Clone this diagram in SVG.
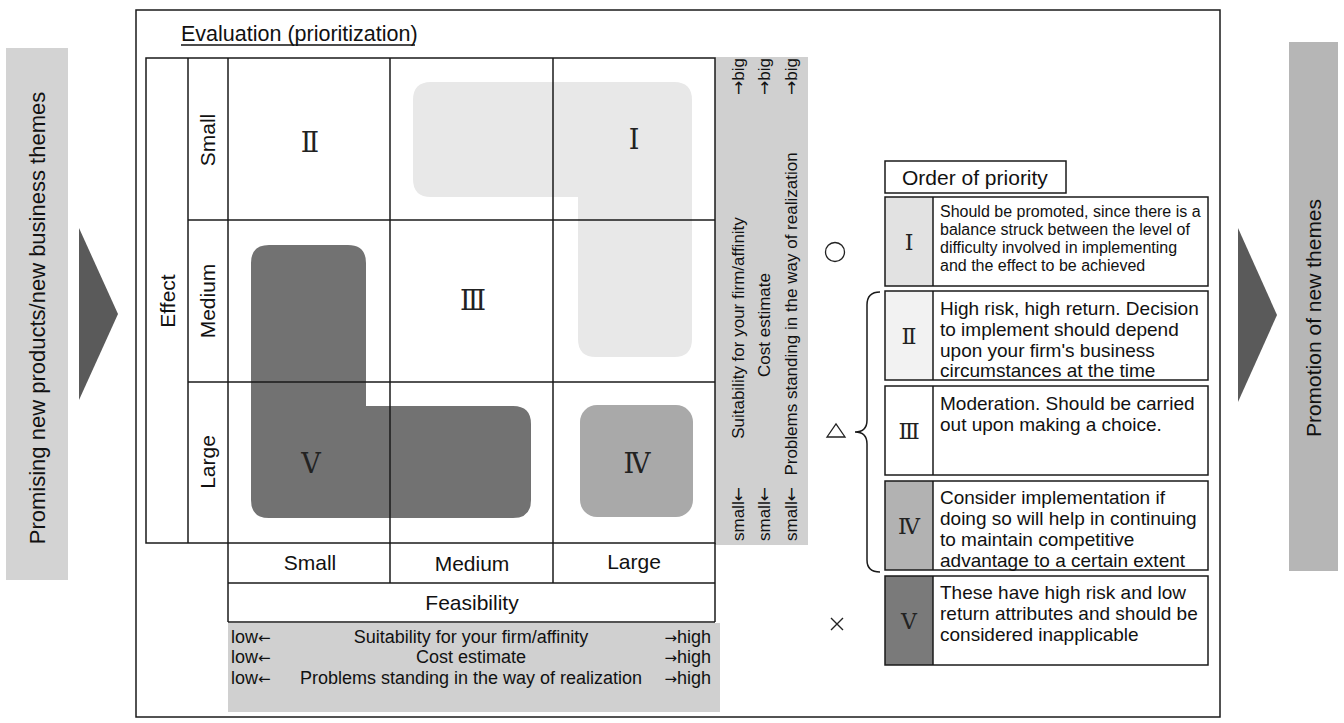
<svg xmlns="http://www.w3.org/2000/svg" width="1344" height="723" viewBox="0 0 1344 723">
  <style>
    .t { font-family: "Liberation Sans", Arial, sans-serif; fill: #111; }
    .ar { font-family: "DejaVu Sans", sans-serif; }
    .ln { stroke: #1a1a1a; stroke-width: 1.5; fill: none; }
    .box { stroke: #1a1a1a; stroke-width: 1.5; }
    .rn { font-family: "DejaVu Serif", "Liberation Serif", "Noto Sans CJK JP", serif; fill: #222; text-anchor: middle; }
  </style>

  <rect width="1344" height="723" fill="#ffffff"/>

  <!-- input theme column -->
  <g id="input-themes">
    <rect x="6" y="48" width="62" height="532" fill="#d3d3d3"/>
    <text class="t" font-size="22" text-anchor="middle" transform="translate(45,318) rotate(-90)">Promising new products/new business themes</text>
  </g>

  <!-- output column -->
  <g id="output-themes">
    <rect x="1289" y="42" width="49" height="529" fill="#b6b6b6"/>
    <text class="t" font-size="21" text-anchor="middle" transform="translate(1321,318) rotate(-90)">Promotion of new themes</text>
  </g>

  <!-- evaluation frame -->
  <g id="evaluation">
    <rect x="136" y="10" width="1084" height="707" fill="none" class="ln"/>
    <text class="t" x="181" y="41" font-size="21.5">Evaluation (prioritization)</text>
    <line x1="181" y1="45" x2="415" y2="45" stroke="#111" stroke-width="1.5"/>
  </g>

  <!-- shaded areas of the matrix -->
  <g id="zone-1">
    <path d="M431,82 H674 Q692,82 692,100 V339 Q692,357 674,357 H596 Q578,357 578,339 V197 H431 Q413,197 413,179 V100 Q413,82 431,82 Z" fill="#e8e8e8"/>
  </g>
  <g id="zone-5">
    <path d="M269,245 H348 Q366,245 366,263 V406 H513 Q531,406 531,424 V500 Q531,518 513,518 H269 Q251,518 251,500 V263 Q251,245 269,245 Z" fill="#727272"/>
  </g>
  <g id="zone-4">
    <rect x="580" y="405" width="113" height="112" rx="17" fill="#a9a9a9"/>
  </g>

  <!-- side scale bands -->
  <g id="effect-scale">
    <rect x="715" y="57" width="93" height="488" fill="#d0d0d0"/>
    <g class="t" font-size="17">
      <text transform="translate(744,541) rotate(-90)">small<tspan class="ar">←</tspan></text>
      <text transform="translate(744,58) rotate(-90)" text-anchor="end"><tspan class="ar">→</tspan>big</text>
      <text transform="translate(744,328) rotate(-90)" text-anchor="middle">Suitability for your firm/affinity</text>
      <text transform="translate(770,541) rotate(-90)">small<tspan class="ar">←</tspan></text>
      <text transform="translate(770,58) rotate(-90)" text-anchor="end"><tspan class="ar">→</tspan>big</text>
      <text transform="translate(770,325) rotate(-90)" text-anchor="middle">Cost estimate</text>
      <text transform="translate(797,541) rotate(-90)">small<tspan class="ar">←</tspan></text>
      <text transform="translate(797,58) rotate(-90)" text-anchor="end"><tspan class="ar">→</tspan>big</text>
      <text transform="translate(797,314) rotate(-90)" text-anchor="middle">Problems standing in the way of realization</text>
    </g>
  </g>
  <g id="feasibility-scale">
    <rect x="228" y="623" width="492" height="89" fill="#d0d0d0"/>
    <g class="t" font-size="18">
      <text x="231" y="643">low<tspan class="ar" font-size="15">←</tspan></text>
      <text x="471" y="643" text-anchor="middle">Suitability for your firm/affinity</text>
      <text x="711" y="643" text-anchor="end"><tspan class="ar" font-size="15">→</tspan>high</text>
      <text x="231" y="663">low<tspan class="ar" font-size="15">←</tspan></text>
      <text x="471" y="663" text-anchor="middle">Cost estimate</text>
      <text x="711" y="663" text-anchor="end"><tspan class="ar" font-size="15">→</tspan>high</text>
      <text x="231" y="684">low<tspan class="ar" font-size="15">←</tspan></text>
      <text x="471" y="684" text-anchor="middle">Problems standing in the way of realization</text>
      <text x="711" y="684" text-anchor="end"><tspan class="ar" font-size="15">→</tspan>high</text>
    </g>
  </g>

  <!-- matrix grid -->
  <g id="matrix">
    <rect x="146" y="58" width="569" height="485" class="ln"/>
    <line class="ln" x1="188" y1="58" x2="188" y2="543"/>
    <line class="ln" x1="228" y1="58" x2="228" y2="622"/>
    <line class="ln" x1="390" y1="58" x2="390" y2="583"/>
    <line class="ln" x1="553" y1="58" x2="553" y2="583"/>
    <line class="ln" x1="715" y1="543" x2="715" y2="622"/>
    <line class="ln" x1="188" y1="220" x2="715" y2="220"/>
    <line class="ln" x1="188" y1="382" x2="715" y2="382"/>
    <line class="ln" x1="228" y1="583" x2="715" y2="583"/>
    <line class="ln" x1="228" y1="622" x2="715" y2="622"/>

    <g class="t" font-size="21" text-anchor="middle">
      <text transform="translate(175,301) rotate(-90)">Effect</text>
      <text transform="translate(215,140) rotate(-90)">Small</text>
      <text transform="translate(215,301) rotate(-90)">Medium</text>
      <text transform="translate(215,462) rotate(-90)">Large</text>
      <text x="310" y="570">Small</text>
      <text x="472" y="571">Medium</text>
      <text x="634" y="569">Large</text>
      <text x="472" y="610">Feasibility</text>
    </g>

    <g class="rn" font-size="27">
      <text x="310" y="152">Ⅱ</text>
      <text x="634" y="149">Ⅰ</text>
      <text x="473" y="310">Ⅲ</text>
      <text x="311" y="473">Ⅴ</text>
      <text x="637" y="473">Ⅳ</text>
    </g>
  </g>

  <!-- priority legend -->
  <g id="legend-title">
    <rect x="885" y="161" width="181" height="32" fill="#fff" class="box"/>
    <text class="t" x="902" y="185" font-size="21">Order of priority</text>
  </g>

  <g id="legend-1">
    <rect x="885" y="197" width="48" height="89" fill="#e2e2e2"/>
    <rect x="885" y="197" width="323" height="89" fill="none" class="box"/>
    <line class="ln" x1="933" y1="197" x2="933" y2="286"/>
    <text class="rn" x="909" y="250" font-size="22">Ⅰ</text>
    <g class="t" font-size="16">
      <text x="940" y="217">Should be promoted, since there is a</text>
      <text x="940" y="235">balance struck between the level of</text>
      <text x="940" y="253">difficulty involved in implementing</text>
      <text x="940" y="271">and the effect to be achieved</text>
    </g>
  </g>

  <g id="legend-2">
    <rect x="885" y="291" width="48" height="89" fill="#f2f2f2"/>
    <rect x="885" y="291" width="323" height="89" fill="none" class="box"/>
    <line class="ln" x1="933" y1="291" x2="933" y2="380"/>
    <text class="rn" x="909" y="344" font-size="22">Ⅱ</text>
    <g class="t" font-size="19">
      <text x="940" y="315">High risk, high return. Decision</text>
      <text x="940" y="336">to implement should depend</text>
      <text x="940" y="357">upon your firm's business</text>
      <text x="940" y="377">circumstances at the time</text>
    </g>
  </g>

  <g id="legend-3">
    <rect x="885" y="386" width="323" height="89" fill="#fff" class="box"/>
    <line class="ln" x1="933" y1="386" x2="933" y2="475"/>
    <text class="rn" x="909" y="439" font-size="22">Ⅲ</text>
    <g class="t" font-size="19">
      <text x="940" y="410">Moderation. Should be carried</text>
      <text x="940" y="431">out upon making a choice.</text>
    </g>
  </g>

  <g id="legend-4">
    <rect x="885" y="481" width="48" height="89" fill="#b2b2b2"/>
    <rect x="885" y="481" width="323" height="89" fill="none" class="box"/>
    <line class="ln" x1="933" y1="481" x2="933" y2="570"/>
    <text class="rn" x="909" y="534" font-size="22">Ⅳ</text>
    <g class="t" font-size="19">
      <text x="940" y="504">Consider implementation if</text>
      <text x="940" y="525">doing so will help in continuing</text>
      <text x="940" y="546">to maintain competitive</text>
      <text x="940" y="567">advantage to a certain extent</text>
    </g>
  </g>

  <g id="legend-5">
    <rect x="885" y="576" width="48" height="89" fill="#7a7a7a"/>
    <rect x="885" y="576" width="323" height="89" fill="none" class="box"/>
    <line class="ln" x1="933" y1="576" x2="933" y2="665"/>
    <text class="rn" x="909" y="629" font-size="22">Ⅴ</text>
    <g class="t" font-size="19">
      <text x="940" y="599">These have high risk and low</text>
      <text x="940" y="620">return attributes and should be</text>
      <text x="940" y="641">considered inapplicable</text>
    </g>
  </g>

  <g id="legend-marks">
    <circle cx="835" cy="252" r="9.5" fill="none" stroke="#222" stroke-width="1.3"/>
    <path d="M827,437 L836,424 L845,437 Z" fill="none" stroke="#222" stroke-width="1.3"/>
    <path d="M831,618 L843,630 M843,618 L831,630" stroke="#222" stroke-width="1.4"/>
  </g>

  <!-- flow arrows and grouping brace -->
  <g id="connectors">
    <path d="M79,228 L118,314 L79,400 Z" fill="#5a5a5a"/>
    <path d="M1238,228 L1277,315 L1238,402 Z" fill="#5a5a5a"/>
    <path d="M880,292 Q867,292 867,305 V420 Q867,432 855,432 Q867,432 867,444 V560 Q867,572 880,572" class="ln" stroke-width="1.3"/>
  </g>
</svg>
